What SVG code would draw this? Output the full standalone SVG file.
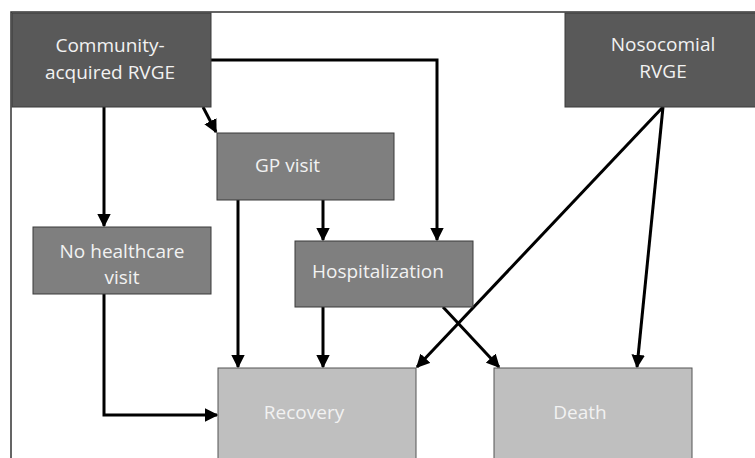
<svg xmlns="http://www.w3.org/2000/svg" width="755" height="458" viewBox="0 0 755 458">
<defs>
<marker id="ah" viewBox="0 0 10 10" refX="9" refY="5" markerWidth="4.5" markerHeight="4.5" orient="auto" markerUnits="strokeWidth">
<path d="M0,0 L10,5 L0,10 Z" fill="#000"/>
</marker>
</defs>
<style>
.dark{fill:#595959;stroke:#3a3a3a;stroke-width:1}
.mid{fill:#7f7f7f;stroke:#3a3a3a;stroke-width:1}
.light{fill:#bfbfbf;stroke:#555;stroke-width:1}
text{font-family:"Open Sans","Noto Sans","Liberation Sans",sans-serif;font-size:19px;fill:#f2f2f2}
.c{text-anchor:middle}
.e{fill:none;stroke:#000;stroke-width:3;marker-end:url(#ah)}
</style>
<rect width="755" height="458" fill="#fff"/>
<path d="M11,458 V12 H755" fill="none" stroke="#333" stroke-width="1.5"/>
<g id="connectors">
<path class="e" d="M211,60 H437 V240"/>
<path class="e" d="M203,107 L216,132"/>
<path class="e" d="M104,107 V226"/>
<path class="e" d="M238,200 V367"/>
<path class="e" d="M323,200 V240"/>
<path class="e" d="M323,307 V367"/>
<path class="e" d="M443,307 L499,367"/>
<path class="e" d="M663,107 L417,367"/>
<path class="e" d="M663,107 L637,367"/>
<path class="e" d="M104,294 V415 H217"/>
</g>
<g id="community">
<rect class="dark" x="12" y="13" width="199" height="94"/>
<text class="c" x="110" y="52">Community-</text>
<text class="c" x="110" y="79">acquired RVGE</text>
</g>
<g id="nosocomial">
<rect class="dark" x="565" y="13" width="195" height="94"/>
<text class="c" x="663" y="51">Nosocomial</text>
<text class="c" x="663" y="78">RVGE</text>
</g>
<g id="gp">
<rect class="mid" x="217" y="133" width="177" height="67"/>
<text x="255" y="172">GP visit</text>
</g>
<g id="nohealthcare">
<rect class="mid" x="33" y="227" width="178" height="67"/>
<text class="c" x="122" y="258">No healthcare</text>
<text class="c" x="122" y="284">visit</text>
</g>
<g id="hospitalization">
<rect class="mid" x="295" y="241" width="178" height="66"/>
<text x="312" y="278">Hospitalization</text>
</g>
<g id="recovery">
<rect class="light" x="218" y="368" width="198" height="100"/>
<text class="c" x="304" y="419">Recovery</text>
</g>
<g id="death">
<rect class="light" x="494" y="368" width="198" height="100"/>
<text class="c" x="580" y="419">Death</text>
</g>
</svg>
